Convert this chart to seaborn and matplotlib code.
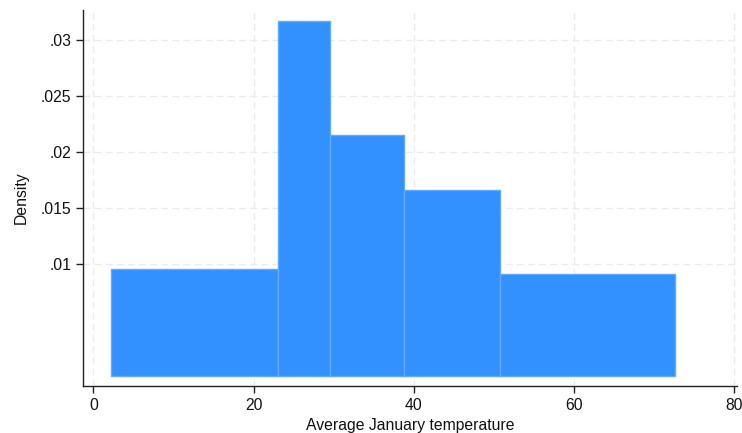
import numpy as np
import pandas as pd
import seaborn as sns
import matplotlib.pyplot as plt
from matplotlib.ticker import FixedLocator

# Bin edges (degrees F) and bar densities
bin_edges = [2.2, 23.1, 29.5, 38.8, 50.8, 72.6]
densities = [0.0095, 0.0317, 0.0215, 0.0166, 0.0091]
x_ticks = [0, 20, 40, 60, 80]
y_ticks = [0.01, 0.015, 0.02, 0.025, 0.03]
y_tick_labels = [".01", ".015", ".02", ".025", ".03"]

sns.set_theme(style="white")
plt.rcParams["font.family"] = ["Liberation Sans", "DejaVu Sans"]

edges = np.array(bin_edges)
centers = (edges[:-1] + edges[1:]) / 2
df = pd.DataFrame({"temp": centers, "density": densities})

fig = plt.figure(figsize=(7.42, 4.33), dpi=100)
ax = fig.add_axes([0.1123, 0.1092, 0.8807, 0.8677])

sns.histplot(data=df, x="temp", weights="density", bins=list(bin_edges), stat="count",
             color="#3390ff", alpha=1.0, edgecolor="#62a9ff", linewidth=1.0, ax=ax)

ax.set_xlim(-1.25, 80.3)
ax.set_ylim(-0.00089, 0.03265)

ax.xaxis.set_major_locator(FixedLocator(x_ticks))
ax.set_xticklabels([str(t) for t in x_ticks])
ax.yaxis.set_major_locator(FixedLocator(y_ticks))
ax.set_yticklabels(y_tick_labels)

ax.grid(True, color="#ececec", linestyle=(0, (5, 3)), linewidth=1.0)
ax.set_axisbelow(True)

for side in ("top", "right"):
    ax.spines[side].set_visible(False)
for side in ("left", "bottom"):
    ax.spines[side].set_color("#222222")
    ax.spines[side].set_linewidth(1.0)

ax.tick_params(axis="both", which="major", direction="out", length=5, width=1,
               color="#222222", labelsize=11.3, labelcolor="#111111", pad=3.5, left=True, bottom=True)

ax.set_xlabel("Average January temperature", fontsize=11.3, color="#111111", labelpad=4)
ax.set_ylabel("Density", fontsize=11.3, color="#111111", labelpad=9)

fig.savefig("out.png", dpi=100)
